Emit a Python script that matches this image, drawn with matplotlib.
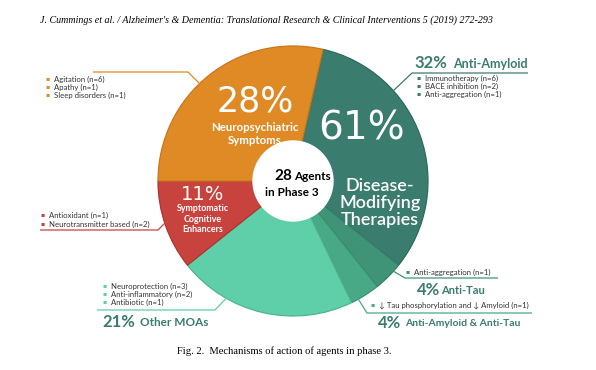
import matplotlib
matplotlib.use("Agg")
import matplotlib.pyplot as plt
from matplotlib.patches import Circle

# agents in phase 3, by mechanism (counts out of 28)
groups = ["Anti-Amyloid", "Anti-Tau", "Anti-Amyloid & Anti-Tau",
          "Other MOAs", "Symptomatic Cognitive Enhancers", "Neuropsychiatric Symptoms"]
counts = [9, 1, 1, 6, 3, 8]
colors = ["#3a7c6d", "#3f9478", "#47a985", "#5ecfa8", "#c8433e", "#e08a26"]
edges = ["#2f6a5c", "#347f66", "#3b9172", "#4fb590", "#ad3531", "#c9771c"]
pcts = ["32%", "4%", "4%", "21%", "11%", "28%"]
dmt_pct = "61%"
total = sum(counts)

amyloid_items = ["Immunotherapy (n=6)", "BACE inhibition (n=2)", "Anti-aggregation (n=1)"]
tau_items = ["Anti-aggregation (n=1)"]
combo_items = ["\u2193 Tau phosphorylation and \u2193 Amyloid (n=1)"]
other_items = ["Neuroprotection (n=3)", "Anti-inflammatory (n=2)", "Antibiotic (n=1)"]
cog_items = ["Antioxidant (n=1)", "Neurotransmitter based (n=2)"]
neuro_items = ["Agitation (n=6)", "Apathy (n=1)", "Sleep disorders (n=1)"]

W, H = 596, 370
fig = plt.figure(figsize=(W / 100, H / 100), dpi=100)
ax = fig.add_axes([0, 0, 1, 1])

def Y(y):
    return H - y

cx, cy, R = 293, 181, 135
wedges, _ = ax.pie(counts, colors=colors, startangle=90 - 360 / total, counterclock=False,
                   radius=R, center=(cx, Y(cy)),
                   wedgeprops=dict(linewidth=0.9))
for w, e in zip(wedges, edges):
    w.set_edgecolor(e)
ax.add_patch(Circle((cx, Y(cy)), 40, color="white", zorder=5))
ax.set_xlim(0, W)
ax.set_ylim(0, H)
ax.set_aspect("auto")
ax.axis("off")

sans = "Lato"
tc = "#3a7c6d"

# header and caption
ax.text(40, Y(20), "J. Cummings et al. / Alzheimer's & Dementia: Translational Research & Clinical Interventions 5 (2019) 272-293",
        family="Liberation Serif", style="italic", fontsize=7.2, va="center", ha="left")
ax.text(177, Y(351), "Fig. 2.  Mechanisms of action of agents in phase 3.",
        family="Liberation Serif", fontsize=7.6, va="center", ha="left")

# centre label
ax.text(292, Y(176), "28", fontsize=11, weight="bold", family=sans, ha="right", va="center", zorder=6)
ax.text(294, Y(176), "Agents", fontsize=8.5, weight="bold", family=sans, ha="left", va="center", zorder=6)
ax.text(292, Y(192), "in Phase 3", fontsize=8.5, weight="bold", family=sans, ha="center", va="center", zorder=6)

# labels inside the wedges
ax.text(255, Y(101), pcts[5], fontsize=25, color="white", family="DejaVu Sans", weight="normal",
        ha="center", va="center")
ax.text(255, Y(134), "Neuropsychiatric\nSymptoms", fontsize=8.2, color="white", family=sans,
        weight="bold", ha="center", va="center", linespacing=1.25)
ax.text(362, Y(129), dmt_pct, fontsize=28, color="white", family="DejaVu Sans", weight="normal",
        ha="center", va="center")
ax.text(380, Y(203), "Disease-\nModifying\nTherapies", fontsize=13, color="white", family=sans,
        weight="semibold", ha="center", va="center", linespacing=1.05)
ax.text(203, Y(195), pcts[4], fontsize=14, color="white", family="DejaVu Sans", ha="center", va="center")
ax.text(203, Y(219), "Symptomatic\nCognitive\nEnhancers", fontsize=6.4, color="white", family=sans,
        weight="bold", ha="center", va="center", linespacing=1.15)

def bullets(x, y0, items, color, dy=8, size=5.6):
    for i, s in enumerate(items):
        ax.text(x, Y(y0 + i * dy), "\u25aa", fontsize=4.5, color=color, ha="center", va="center")
        ax.text(x + 6, Y(y0 + i * dy), s, fontsize=size, color="#333333", family=sans,
                ha="left", va="center")

def leader(xs, ys, color):
    ax.plot(xs, [Y(v) for v in ys], color=color, lw=0.9, solid_capstyle="butt")

# neuropsychiatric
leader([93, 188, 202], [72, 72, 86], "#e08a26")
bullets(48, 79, neuro_items, "#e08a26")

# anti-amyloid
ax.text(414, Y(63), pcts[0], fontsize=12, weight="bold", color=tc, family=sans, ha="left", va="center")
ax.text(453, Y(64), groups[0], fontsize=9, weight="bold", color=tc, family=sans, ha="left", va="center")
leader([528, 412, 392], [73, 73, 92], tc)
bullets(419, 78, amyloid_items, tc)

# symptomatic cognitive
leader([40, 158, 168], [230, 230, 220], "#c8433e")
bullets(43, 215, cog_items, "#c8433e", dy=9)

# anti-tau
leader([388, 405, 498], [268, 278, 278], "#3f9478")
bullets(408, 272, tau_items, "#3f9478")
ax.text(417, Y(290), pcts[1], fontsize=12, weight="bold", color=tc, family=sans, ha="left", va="center")
ax.text(441, Y(291), groups[1], fontsize=8, weight="bold", color=tc, family=sans, ha="left", va="center")

# combined
leader([357, 367, 532], [297, 313, 313], "#47a985")
bullets(373, 305, combo_items, "#47a985")
ax.text(378, Y(323), pcts[2], fontsize=12, weight="bold", color=tc, family=sans, ha="left", va="center")
ax.text(405, Y(324), groups[2], fontsize=7.5, weight="bold", color=tc, family=sans, ha="left", va="center")

# other MOAs
leader([97, 215, 237], [310, 310, 287], "#5ecfa8")
bullets(105, 286, other_items, "#5ecfa8")
ax.text(102, Y(322), pcts[3], fontsize=12, weight="bold", color=tc, family=sans, ha="left", va="center")
ax.text(140, Y(323), groups[3], fontsize=8.5, weight="bold", color=tc, family=sans, ha="left", va="center")

fig.savefig("out.png", dpi=100)
